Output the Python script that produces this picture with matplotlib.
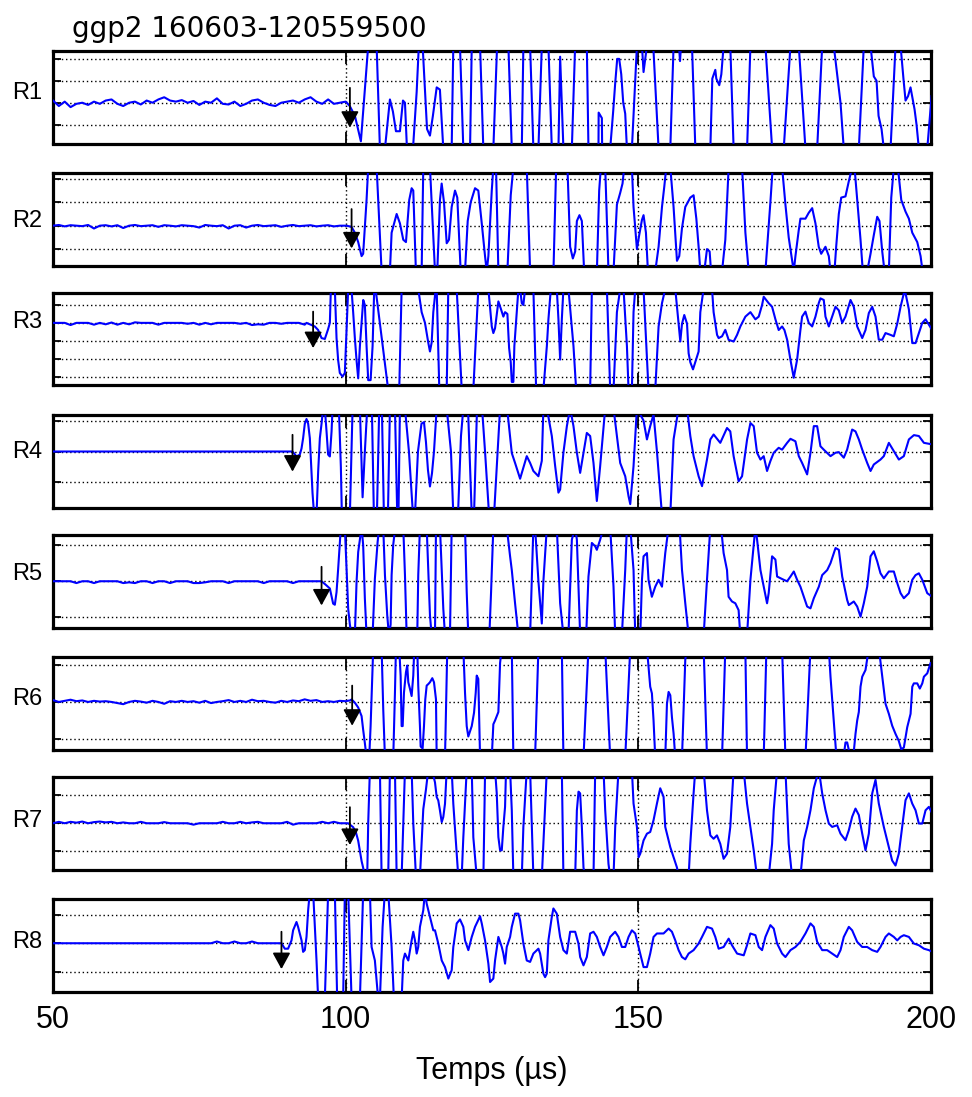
import numpy as np
import matplotlib.pyplot as plt

plt.rcParams['font.family'] = ['Liberation Sans', 'DejaVu Sans']

# ---- data (time in µs, amplitude in grid units) ----
title = 'ggp2 160603-120559500'
receivers = ['R1', 'R2', 'R3', 'R4', 'R5', 'R6', 'R7', 'R8']
xticks = [50, 100, 150, 200]
xlabel = 'Temps (µs)'

# pre-trigger noise, one value per µs starting at 50 µs
r1_pre = [0.10, -0.15, 0.05, -0.20, -0.05, 0.00, -0.10, 0.05, -0.05, 0.10,
          0.15, -0.05, -0.15, 0.00, 0.05, -0.08, 0.10, 0.00, 0.15, 0.25,
          0.10, 0.05, 0.12, 0.00, 0.08, -0.10, 0.05, 0.00, 0.20, -0.05,
          -0.08, 0.05, -0.15, -0.05, 0.10, 0.15, 0.00, -0.10, -0.15, 0.00,
          0.05, 0.10, 0.00, 0.15, 0.25, 0.05, -0.05, 0.15, -0.05, 0.00,
          0.05]
r2_pre = [0.0, 0.03, -0.03, 0.02, 0.0, -0.02, 0.03, -0.12, 0.0, 0.02,
          -0.03, 0.02, -0.1, 0.0, 0.03, -0.02, 0.0, 0.02, -0.05, 0.02,
          0.0, -0.03, 0.02, 0.0, -0.02, -0.08, 0.03, 0.0, -0.02, 0.02,
          -0.12, 0.0, 0.02, -0.08, 0.0, 0.03, -0.02, 0.0, 0.02, -0.05,
          0.0, 0.03, -0.02, 0.0, 0.02, -0.03, 0.0, 0.02, -0.03, 0.0,
          0.0]
r3_pre = [0.0, 0.0, 0.0, -0.12, 0.0, 0.0, 0.0, -0.1, 0.0, -0.08,
          0.02, -0.1, 0.0, -0.08, 0.03, 0.0, 0.0, 0.0, -0.1, 0.0,
          0.0, 0.0, 0.0, -0.05, 0.0, -0.1, 0.0, -0.08, 0.0, 0.0,
          0.0, 0.0, -0.05, 0.0, -0.12, -0.08, -0.1, 0.0, 0.0, -0.05,
          0.0, 0.0, 0.0, -0.1]
r4_pre = [0.0, 0.0, 0.0, 0.0, 0.0, 0.0, 0.0, 0.0, 0.0, 0.0,
          0.0, 0.0, 0.0, 0.0, 0.0, 0.0, 0.0, 0.0, 0.0, 0.0,
          0.0, 0.0, 0.0, 0.0, 0.0, 0.0, 0.0, 0.0, 0.0, 0.0,
          0.0, 0.0, 0.0, 0.0, 0.0, 0.0, 0.0, 0.0, 0.0, 0.0,
          0.0]
r5_pre = [0.0, 0.0, 0.0, 0.0, -0.05, 0.0, 0.0, -0.05, 0.0, 0.0,
          0.0, 0.0, -0.05, -0.03, -0.05, 0.0, 0.0, -0.05, 0.0, 0.0,
          -0.05, 0.0, 0.0, 0.0, -0.05, -0.05, -0.03, 0.0, 0.0, 0.0,
          -0.05, 0.0, 0.0, 0.0, 0.0, 0.0, -0.05, 0.0, 0.0, 0.0,
          0.0, -0.05, 0.0, 0.0, 0.0, 0.0]
r6_pre = [0.05, 0.0, 0.03, 0.06, 0.02, 0.04, 0.0, 0.03, 0.01, 0.02,
          0.0, -0.03, -0.06, 0.0, 0.03, 0.01, -0.02, 0.03, 0.0, -0.05,
          0.02, 0.0, 0.03, 0.0, 0.02, -0.02, 0.03, -0.03, 0.0, 0.02,
          0.05, 0.0, 0.03, 0.0, 0.06, 0.02, 0.03, 0.0, -0.02, 0.03,
          0.0, 0.04, 0.02, 0.07, 0.03, 0.05, 0.0, 0.02, 0.0, 0.03,
          0.02, 0.05]
r7_pre = [0.0, 0.05, 0.0, 0.05, 0.02, 0.06, 0.0, 0.04, 0.06, 0.03,
          0.05, 0.0, 0.03, 0.0, 0.0, 0.05, 0.0, 0.0, 0.0, 0.04,
          0.0, 0.0, 0.0, 0.0, -0.05, 0.0, 0.0, 0.0, 0.0, 0.05,
          0.0, 0.0, 0.05, 0.0, 0.03, 0.05, 0.0, 0.0, 0.0, 0.0,
          0.05, -0.05, 0.0, 0.0, 0.0, 0.0, 0.05, 0.0, 0.05, 0.0]
r8_pre = [0.0, 0.0, 0.0, 0.0, 0.0, 0.0, 0.0, 0.0, 0.0, 0.0,
          0.0, 0.0, 0.0, 0.0, 0.0, 0.0, 0.0, 0.0, 0.0, 0.0,
          0.0, 0.0, 0.0, 0.0, 0.0, 0.0, 0.0, 0.0, 0.06, 0.0,
          0.0, 0.06, 0.0, 0.0, 0.06, 0.0, 0.0, 0.0, 0.0, 0.0]

# signal after the first arrival: (time, amplitude) turning points
r1_sig = [(100.19, 0.0), (100.7, -0.15), (101.58, -0.6), (102.6, -1.76), (103.85, 2.6), (105.29, 2.6),
          (105.85, -2.1), (106.71, -2.1), (107.56, 0.15), (108.07, -0.4), (108.59, -1.3), (109.27, -1.3),
          (109.79, 0.1), (110.13, 0.0), (110.47, -2.1), (111.5, -2.1), (112.13, 0.5), (112.5, 2.6),
          (113.15, 2.6), (113.9, -1.2), (114.4, -1.5), (114.9, -0.6), (115.55, 0.7), (116.1, 0.6),
          (116.68, -2.1), (118.11, -2.1), (118.39, 2.6), (119.53, 2.6), (120.1, -2.1), (121.25, -2.1),
          (121.54, 2.6), (122.96, 2.6), (123.52, -2.1), (125.23, -2.1), (125.87, 2.6), (127.8, 2.6),
          (128.38, -2.1), (130.09, -2.1), (130.36, 2.6), (131.51, 2.6), (132.07, -2.1), (132.93, -2.1),
          (133.51, 2.6), (134.64, 2.6), (135.22, -2.1), (136.35, -2.1), (136.64, 2.1), (137.2, -2.1),
          (138.64, -2.1), (139.2, 2.6), (141.2, 2.6), (141.48, -2.1), (143.19, -2.1), (143.22, -0.45),
          (143.77, -0.7), (143.82, -2.1), (145.19, -2.1), (145.7, -0.4), (146.05, 0.9), (146.39, 2.0),
          (146.73, 2.0), (147.08, 1.3), (147.42, 0.0), (147.76, -0.5), (148.05, -2.1), (148.9, -2.1),
          (149.76, 2.6), (150.62, 2.6), (150.89, 1.4), (151.47, 2.6), (152.55, 2.6), (153.46, -2.1),
          (155.46, -2.1), (156.02, 2.6), (156.95, 2.6), (157.12, 1.9), (157.29, 2.6), (159.17, 2.6),
          (159.74, -2.1), (162.3, -2.1), (162.64, 1.1), (163.15, 1.5), (163.32, 1.1), (163.83, 0.8),
          (164.18, 1.3), (164.57, 2.6), (165.71, 2.6), (166.28, -2.1), (168.58, -2.1), (169.15, 2.6),
          (171.71, 2.6), (172.86, -2.1), (174.84, -2.1), (175.99, 2.6), (177.41, 2.6), (178.55, -2.1),
          (180.55, -2.1), (181.41, 2.6), (183.39, 2.6), (184.54, 0.0), (185.1, -2.1), (187.67, -2.1),
          (188.52, 2.6), (189.67, 2.6), (190.23, 1.2), (190.7, 1.0), (191.04, -0.6), (191.55, -1.2),
          (191.94, -2.1), (193.09, -2.1), (193.94, 2.6), (194.8, 2.6), (195.31, 1.05), (195.65, 0.1),
          (196.08, 0.3), (196.5, 0.7), (196.85, 0.2), (197.19, -0.3), (197.53, -1.0), (197.93, -2.1),
          (199.36, -2.1), (200.1, 0.3)]

r2_sig = [(100.15, 0.0), (101.0, -0.05), (101.57, -0.3), (102.14, -0.7), (102.72, -1.3), (102.99, -1.2),
          (103.57, 1.1), (103.85, 2.5), (105.29, 2.5), (106.14, -1.95), (107.56, -1.95), (107.85, -0.3),
          (108.71, 0.5), (109.27, 0.1), (109.84, -0.6), (110.3, -0.7), (110.86, 1.1), (111.27, 1.6),
          (111.55, 1.5), (112.0, -1.95), (112.98, -1.95), (113.26, 2.5), (114.4, 2.5), (115.26, -1.95),
          (115.65, -1.95), (116.11, 1.1), (116.4, 1.8), (116.8, 1.0), (117.26, -0.75), (117.65, -0.6),
          (118.11, 0.8), (118.68, 1.5), (119.07, 1.2), (119.65, -1.95), (120.39, -1.95), (120.85, 0.2),
          (121.36, 1.0), (122.1, 1.6), (122.66, 1.5), (123.25, 0.1), (123.81, -1.3), (124.1, -1.95),
          (124.38, -1.3), (124.96, 1.5), (125.23, 2.5), (125.69, 2.5), (126.09, -1.95), (127.63, -1.95),
          (128.2, 1.3), (128.65, 2.5), (130.94, 2.5), (131.51, -1.95), (135.5, -1.95), (135.96, 2.5),
          (137.89, 2.5), (138.35, -0.9), (138.81, -1.4), (139.21, -1.1), (139.5, 0.2), (139.94, 0.45),
          (140.35, 0.2), (140.74, -1.95), (142.92, -1.95), (143.31, 1.5), (143.6, 2.5), (144.34, 2.5),
          (144.9, -1.95), (145.76, -1.95), (146.34, 0.9), (146.9, 1.4), (147.3, 1.8), (147.59, 2.5),
          (148.9, 2.5), (149.18, 0.8), (149.76, -1.0), (150.15, -0.4), (150.62, 0.25), (150.89, 0.45),
          (151.3, -0.3), (151.64, -1.95), (152.89, -1.95), (153.46, -0.9), (154.04, 0.8), (154.43, 1.66),
          (154.78, 2.5), (155.46, 2.5), (156.02, 0.8), (156.6, -1.5), (156.99, -1.3), (157.46, -0.1),
          (158.02, 0.8), (158.88, 1.2), (159.44, 1.3), (159.91, 0.3), (160.3, -0.9), (160.59, -1.95),
          (161.27, -1.95), (161.73, -1.0), (162.18, -1.1), (162.42, -1.95), (164.3, -1.95), (164.86, -0.6),
          (165.43, 2.5), (167.72, 2.5), (168.29, -0.3), (168.85, -1.95), (171.71, -1.95), (172.56, 1.0),
          (172.96, 2.5), (174.56, 2.5), (175.13, 0.9), (175.69, -0.5), (176.55, -1.95), (176.84, -1.3),
          (177.4, -0.2), (177.69, 0.3), (178.55, 0.3), (179.11, 0.55), (179.7, 0.75), (180.26, 0.1),
          (180.82, -0.9), (181.24, -1.2), (181.97, -0.9), (182.54, -1.3), (182.83, -1.95), (183.51, -1.95),
          (183.8, -0.9), (184.25, 0.5), (184.66, 1.2), (185.39, 1.25), (185.96, 1.9), (186.54, 2.5),
          (186.93, 2.5), (187.39, 1.1), (187.96, -0.6), (188.35, -1.95), (189.1, -1.95), (189.67, -1.2),
          (190.23, -0.4), (190.81, 0.38), (191.2, 0.2), (191.67, -1.1), (192.06, -1.95), (192.8, -1.95),
          (193.21, 1.2), (193.65, 2.5), (194.34, 2.5), (194.92, 1.1), (195.65, 0.6), (196.22, 0.3),
          (196.8, -0.3), (197.65, -0.7), (198.22, -1.3), (198.56, -1.95), (200.5, -1.95)]

r3_sig = [(93.31, 0.0), (94.73, -0.2), (95.3, -0.4), (95.88, -0.85), (96.44, -0.9), (97.0, -0.35),
          (97.3, 0.0), (97.47, 1.9), (98.15, 1.9), (98.44, -0.85), (98.72, -2.1), (99.0, -2.8),
          (99.47, -3.0), (99.86, -2.8), (100.15, -0.4), (100.43, 1.9), (101.0, 1.9), (101.28, 0.6),
          (101.57, -0.85), (101.86, -2.1), (102.14, -3.1), (102.43, -1.3), (103.0, 1.28), (103.28, 1.0),
          (103.57, -1.3), (103.85, -3.2), (104.26, -3.2), (104.6, -1.3), (104.88, 1.9), (105.11, 1.9),
          (107.27, -3.75), (109.15, -3.75), (109.56, 1.9), (112.4, 1.9), (112.98, 0.6), (113.55, 0.0),
          (114.11, -1.1), (114.4, -1.6), (114.69, -1.1), (114.97, 0.6), (115.38, 1.9), (115.55, 1.9),
          (116.0, -3.75), (117.26, -3.75), (117.53, 1.9), (118.97, 1.9), (119.83, -3.75), (121.81, -3.75),
          (122.66, 1.9), (124.38, 1.9), (124.96, -0.2), (125.23, -0.57), (125.52, -0.3), (126.09, 1.2),
          (126.5, 0.8), (126.94, 0.35), (127.23, 0.6), (127.63, 0.5), (127.92, -1.4), (128.2, -2.2),
          (128.38, -3.3), (128.65, -3.3), (128.82, -1.3), (129.23, 0.6), (129.51, 1.9), (129.8, 1.9),
          (130.09, 1.1), (130.36, 1.0), (130.65, 1.9), (132.07, 1.9), (132.54, -3.75), (133.78, -3.75),
          (134.37, -1.3), (134.64, 0.2), (135.05, 1.9), (136.07, 1.9), (136.35, 0.2), (136.64, -2.05),
          (136.93, 0.2), (137.2, 1.9), (138.06, 1.9), (138.92, -1.3), (139.38, -3.75), (141.77, -3.75),
          (142.06, 1.9), (144.63, 1.9), (145.19, -3.75), (145.76, -3.75), (146.34, 0.6), (146.9, 1.9),
          (147.47, 1.9), (148.05, -1.3), (148.33, -3.75), (148.9, -3.75), (149.18, 0.6), (149.47, 1.9),
          (150.89, 1.9), (151.74, -3.75), (152.89, -3.75), (153.46, -0.2), (154.04, 1.1), (154.6, 1.9),
          (156.31, 1.9), (156.88, -0.05), (157.17, -1.04), (157.46, -0.05), (157.85, 0.44), (158.32, -0.05),
          (158.59, -1.7), (158.88, -2.2), (159.34, -2.6), (159.73, -2.2), (160.3, -1.6), (160.59, 0.6),
          (161.15, 1.9), (162.59, 1.9), (162.86, 0.6), (163.45, -0.67), (163.72, -0.85), (164.3, -0.75),
          (164.86, -0.39), (165.43, -0.95), (166.29, -1.04), (166.87, -0.67), (167.43, -0.2), (168.29, 0.35),
          (169.15, 0.6), (170.0, 0.2), (170.57, 0.35), (171.14, 1.0), (171.42, 1.46), (172.27, 1.1),
          (172.85, 0.9), (173.42, 0.2), (173.98, -0.4), (174.56, -0.2), (174.96, -0.4), (175.42, -0.94),
          (175.98, -2.05), (176.55, -3.07), (177.13, -2.05), (177.69, -0.4), (177.98, 0.35), (178.55, 0.63),
          (179.11, 0.0), (179.7, -0.2), (180.26, 0.35), (180.82, 1.1), (181.11, 1.37), (181.68, 1.28),
          (181.97, 0.35), (182.54, -0.2), (183.12, 0.35), (183.68, 0.9), (184.25, 0.7), (184.83, 0.0),
          (185.39, 0.35), (186.25, 1.28), (186.81, 0.9), (187.39, -0.2), (188.25, -0.85), (188.81, -0.4),
          (189.38, 0.55), (189.96, 0.9), (190.52, 0.35), (191.08, -0.94), (191.67, -0.94), (192.23, -0.57),
          (193.08, -0.67), (193.65, -0.75), (194.23, -0.05), (194.8, 0.9), (195.36, 1.65), (195.65, 1.65),
          (196.22, 0.75), (196.8, -1.13), (197.36, -1.13), (197.93, -0.57), (198.51, 0.0), (199.07, 0.2),
          (199.64, -0.1), (200.2, -0.4)]

r4_sig = [(90.92, 0.0), (91.6, -0.16), (92.17, -0.1), (92.46, 0.1), (92.73, 0.43), (93.02, 0.9),
          (93.31, 1.05), (93.59, 0.9), (93.88, 0.43), (94.17, -0.65), (94.34, -1.35), (94.61, -2.05),
          (95.02, -2.05), (95.3, -0.65), (95.59, 0.43), (95.88, 0.9), (96.15, 1.4), (96.44, 1.4),
          (96.73, 0.65), (97.0, -0.1), (97.3, -0.16), (97.59, 0.65), (97.76, 1.4), (98.84, 1.4),
          (99.18, -0.5), (99.35, -2.05), (100.72, -2.05), (101.18, 1.4), (102.43, 1.4), (102.89, -1.48),
          (103.28, 0.0), (103.68, 1.4), (104.48, 1.4), (104.82, -2.05), (105.34, -2.05), (105.73, 1.4),
          (106.19, 1.4), (106.53, -2.05), (107.22, -2.05), (107.56, 1.4), (108.42, 1.4), (108.81, -2.05),
          (109.02, -2.05), (109.27, 1.4), (110.13, 1.4), (110.81, 0.0), (111.5, -2.05), (111.84, -2.05),
          (112.35, 0.0), (112.95, 0.9), (113.38, 0.95), (113.72, 0.3), (114.06, -0.6), (114.4, -1.13),
          (114.75, -0.7), (115.09, 0.0), (115.55, 1.4), (117.26, 1.4), (117.99, 0.0), (118.39, -2.05),
          (119.19, -2.05), (119.7, 0.5), (120.1, 1.4), (120.9, 1.4), (121.54, -2.05), (121.93, -2.05),
          (122.44, 1.4), (123.3, 1.4), (123.81, 0.0), (124.5, -2.05), (125.35, -2.05), (126.04, 0.3),
          (126.38, 1.4), (127.58, 1.4), (128.38, -0.05), (128.94, -0.37), (129.8, -0.88), (130.94, -0.15),
          (131.51, -0.37), (132.07, -0.63), (132.93, -0.8), (133.51, -0.3), (133.78, 1.4), (134.37, 1.4),
          (135.22, 0.5), (135.79, -0.47), (136.35, -1.33), (136.64, -1.23), (137.2, -0.04), (137.79, 0.82),
          (138.35, 1.4), (138.92, 0.82), (139.5, -0.04), (140.06, -0.69), (140.63, -0.04), (141.2, 0.6),
          (141.77, 0.5), (142.34, -0.37), (142.91, -1.6), (143.48, -0.47), (144.34, 1.4), (145.76, 1.4),
          (146.34, 0.5), (146.9, -0.37), (147.76, -0.8), (148.33, -1.45), (148.62, -1.7), (149.18, -0.47),
          (149.76, 1.4), (150.32, 1.2), (150.89, 1.0), (151.47, 0.39), (152.03, 0.82), (152.6, 1.2),
          (153.18, 0.0), (154.04, -2.05), (155.46, -2.05), (156.02, 0.39), (156.88, 1.4), (158.32, 1.4),
          (158.88, 0.5), (159.44, -0.15), (160.3, -0.8), (160.88, -1.12), (161.73, -0.26), (162.3, 0.39),
          (162.86, 0.55), (164.0, 0.28), (165.15, 0.76), (165.71, 0.65), (166.28, -0.15), (167.13, -0.96),
          (167.72, -0.8), (168.58, 0.39), (169.15, 0.92), (169.71, 0.82), (170.28, -0.04), (170.86, -0.26),
          (171.42, -0.15), (171.99, -0.63), (172.56, -0.31), (173.13, -0.04), (173.98, 0.12), (174.56, 0.06),
          (175.42, 0.28), (175.99, 0.41), (176.84, 0.33), (177.41, -0.15), (177.98, -0.37), (178.84, -0.74),
          (179.41, -0.04), (179.98, 0.82), (180.55, 0.82), (181.11, 0.17), (181.68, 0.06), (182.83, -0.15),
          (183.68, -0.04), (184.25, -0.02), (185.1, -0.2), (185.67, 0.06), (186.53, 0.71), (187.1, 0.65),
          (187.67, 0.39), (188.25, 0.06), (189.1, -0.37), (189.67, -0.63), (190.23, -0.42), (191.37, -0.26),
          (191.94, -0.15), (192.8, 0.28), (193.65, 0.01), (194.51, -0.26), (195.36, -0.15), (196.22, 0.39),
          (197.08, 0.53), (197.93, 0.5), (198.79, 0.28), (200.21, 0.23)]

r5_sig = [(95.88, 0.0), (96.61, -0.1), (97.3, -0.2), (97.86, -0.62), (98.15, -0.65), (98.44, -0.3),
          (98.72, 0.35), (99.01, 1.09), (99.18, 1.5), (99.86, 1.5), (100.15, 0.35), (100.43, -0.76),
          (100.72, -1.2), (101.01, -1.5), (101.57, -1.5), (101.86, -0.02), (102.14, 0.81), (102.72, 1.5),
          (102.99, 1.0), (103.28, -0.48), (103.57, -1.5), (104.6, -1.5), (104.99, 0.07), (105.46, 1.09),
          (105.73, 1.5), (106.42, 1.5), (106.71, 0.17), (107.1, -0.94), (107.39, -1.5), (107.68, -1.2),
          (107.85, 0.17), (108.12, 1.0), (108.47, 1.5), (109.84, 1.5), (110.13, 0.17), (110.42, -1.5),
          (112.23, -1.5), (112.4, 0.17), (112.69, 1.5), (113.84, 1.5), (114.4, -0.94), (114.69, -1.5),
          (115.26, -1.5), (115.43, 1.5), (116.11, 1.5), (116.68, -0.76), (116.97, -1.5), (117.82, -1.5),
          (118.11, 1.5), (120.39, 1.5), (120.68, -0.3), (120.95, -1.5), (124.55, -1.5), (124.84, -0.3),
          (125.23, 1.5), (127.52, 1.5), (128.09, 0.69), (128.38, 0.31), (128.94, -0.61), (129.51, -1.5),
          (131.51, -1.5), (132.07, 1.5), (132.36, 1.5), (132.93, 0.0), (133.51, -1.17), (133.78, 0.0),
          (134.37, 1.5), (136.07, 1.5), (136.64, -0.61), (137.2, -1.5), (138.06, -1.5), (138.64, 1.15),
          (139.21, 1.5), (139.5, 1.15), (140.06, -1.5), (141.09, -1.5), (141.48, 0.13), (142.06, 1.06),
          (142.62, 0.97), (142.91, 0.87), (143.48, 1.15), (144.05, 1.5), (145.19, 1.5), (145.76, -0.15),
          (146.05, -1.5), (147.19, -1.5), (147.76, 0.31), (148.05, 1.5), (148.62, 1.5), (149.18, 0.31),
          (149.47, -1.5), (150.33, -1.5), (150.62, 0.04), (150.89, 0.69), (151.47, 0.78), (151.74, 0.04),
          (152.31, -0.43), (152.89, -0.15), (153.46, 0.04), (154.04, -0.15), (154.6, 0.78), (155.17, 1.5),
          (157.05, 1.5), (157.46, 0.31), (158.02, -0.61), (158.59, -1.5), (161.16, -1.5), (161.73, 0.04),
          (162.3, 1.5), (164.13, 1.5), (164.57, 0.78), (165.15, 0.31), (165.42, -0.43), (166.0, -0.56),
          (166.57, -0.61), (167.13, -0.8), (167.42, -1.5), (168.57, -1.5), (169.15, 0.04), (170.0, 1.5),
          (170.29, 1.15), (170.86, 0.31), (171.42, -0.15), (171.99, -0.61), (172.27, -0.33), (172.85, 0.69),
          (173.42, 0.6), (173.71, 0.13), (174.84, 0.04), (175.42, 0.0), (175.99, 0.13), (176.56, 0.27),
          (177.13, 0.04), (177.69, -0.15), (178.27, -0.43), (178.84, -0.7), (179.41, -0.75), (179.98, -0.47),
          (180.84, -0.15), (181.41, 0.17), (182.27, 0.31), (182.83, 0.5), (183.69, 0.92), (184.25, 0.87),
          (184.83, 0.13), (185.68, -0.52), (185.96, -0.66), (186.81, -0.56), (187.39, -0.7), (187.96, -0.98),
          (188.52, -0.61), (189.1, -0.15), (189.67, 0.69), (190.23, 0.83), (190.81, 0.55), (191.37, 0.22),
          (191.94, 0.08), (192.8, 0.27), (193.65, 0.27), (194.23, -0.05), (194.8, -0.33), (195.36, -0.47),
          (196.22, -0.33), (196.8, 0.04), (197.36, 0.17), (197.93, 0.22), (198.51, 0.04), (199.36, -0.33),
          (200.21, -0.43)]

r6_sig = [(101.01, 0.07), (101.57, -0.02), (102.14, -0.15), (102.72, -0.38), (102.99, -0.75), (103.28, -1.11),
          (103.57, -1.5), (104.02, -1.5), (104.26, -0.65), (104.6, 0.98), (104.71, 1.45), (106.14, 1.45),
          (106.42, -0.2), (106.71, -1.5), (108.13, -1.5), (108.42, 0.25), (108.59, 1.45), (109.15, 1.45),
          (109.39, 0.7), (109.56, -0.65), (109.74, -0.65), (109.96, 0.25), (110.3, 0.8), (110.52, 0.98),
          (110.7, 0.53), (110.99, 0.35), (111.27, 0.16), (111.55, 0.71), (111.72, 1.45), (112.23, 1.45),
          (112.4, 0.44), (112.69, -0.65), (112.81, -1.2), (113.15, -1.25), (113.38, -0.65), (113.6, 0.07),
          (113.84, 0.44), (114.11, 0.48), (114.4, 0.53), (114.8, 0.64), (115.09, 0.53), (115.43, 0.07),
          (115.55, -1.5), (116.97, -1.5), (117.36, 1.45), (120.1, 1.45), (120.39, 0.25), (120.68, -0.65),
          (120.95, -0.93), (121.54, -0.65), (121.93, -0.29), (122.22, 0.25), (122.39, 0.71), (122.66, 0.62),
          (122.96, -1.5), (124.96, -1.5), (125.23, -0.6), (125.52, -0.5), (126.09, -0.27), (126.38, 1.05),
          (126.67, 1.45), (128.38, 1.45), (128.65, -1.5), (132.36, -1.5), (132.93, 1.45), (136.93, 1.45),
          (137.2, -1.5), (140.63, -1.5), (141.48, 1.45), (144.34, 1.45), (145.19, -1.5), (147.76, -1.5),
          (148.62, 1.45), (151.47, 1.45), (152.03, 0.41), (152.32, 0.23), (152.6, -0.5), (152.89, -1.5),
          (154.6, -1.5), (154.89, -0.05), (155.17, 0.27), (155.46, 0.18), (155.74, -0.41), (156.03, -0.86),
          (156.31, -1.5), (157.46, -1.5), (158.02, 1.14), (158.32, 1.45), (161.16, 1.45), (161.73, -1.5),
          (164.3, -1.5), (164.86, 1.45), (168.28, 1.45), (168.57, -1.5), (171.42, -1.5), (171.88, 1.45),
          (174.56, 1.45), (175.13, -1.5), (178.55, -1.5), (179.41, 1.45), (182.54, 1.45), (182.83, 0.68),
          (183.39, -0.5), (183.85, -1.5), (185.05, -1.5), (185.39, -1.09), (185.68, -1.09), (186.25, -1.5),
          (186.71, -1.5), (187.1, -0.86), (187.39, -0.5), (187.67, -0.27), (187.96, 0.41), (188.25, 0.68),
          (188.81, 0.86), (189.38, 1.45), (191.09, 1.45), (191.67, 0.68), (192.23, -0.05), (192.8, -0.32),
          (193.37, -0.64), (193.94, -0.86), (194.5, -1.05), (194.91, -1.27), (195.36, -1.23), (195.94, -0.68),
          (196.51, -0.32), (196.8, 0.41), (197.07, 0.5), (197.65, 0.5), (198.09, 0.36), (198.51, 0.5),
          (198.79, 0.68), (199.36, 0.77), (199.93, 1.05), (200.21, 1.05)]

r7_sig = [(99.86, 0.0), (100.43, 0.0), (101.28, -0.14), (101.75, -0.32), (102.14, -0.62), (102.43, -0.98),
          (102.72, -1.34), (102.99, -1.58), (103.28, -1.9), (103.68, -1.9), (103.85, 0.0), (104.14, 1.9),
          (105.85, 1.9), (106.14, -1.9), (107.27, -1.9), (107.56, 1.9), (108.42, 1.9), (108.71, -1.9),
          (109.56, -1.9), (109.84, 0.0), (110.13, 1.9), (111.27, 1.9), (111.55, 0.0), (112.01, -1.9),
          (112.69, -1.9), (113.26, 0.5), (113.72, 1.2), (114.11, 1.9), (114.74, 1.9), (115.26, 1.45),
          (115.55, 0.93), (115.82, 0.81), (116.11, 0.45), (116.41, 0.04), (116.68, 0.22), (116.97, 0.69),
          (117.26, 1.9), (118.11, 1.9), (118.39, 0.69), (118.97, -1.1), (119.24, -1.9), (119.82, -1.9),
          (120.1, -0.5), (120.68, 1.9), (121.54, 1.9), (121.81, -0.5), (122.39, -1.9), (123.53, -1.9),
          (123.82, 1.9), (125.52, 1.9), (125.81, 1.06), (126.09, -0.49), (126.38, -0.96), (126.67, -0.96),
          (126.94, -0.13), (127.23, 0.58), (127.4, 1.9), (128.09, 1.9), (128.38, 0.46), (128.65, -1.9),
          (130.09, -1.9), (130.36, -0.13), (130.94, 1.9), (131.51, 1.9), (131.8, -0.13), (132.07, -1.9),
          (133.51, -1.9), (133.78, -0.73), (134.37, 1.9), (136.93, 1.9), (137.2, -1.9), (139.21, -1.9),
          (139.5, 0.46), (139.78, 1.12), (140.06, 1.06), (140.35, -0.13), (140.63, -1.57), (140.92, -1.9),
          (142.34, -1.9), (142.63, 1.9), (144.05, 1.9), (144.34, 0.46), (144.9, -1.44), (145.19, -1.9),
          (145.76, -1.9), (146.05, -0.13), (146.62, 1.9), (148.9, 1.9), (149.18, 0.7), (149.76, -0.13),
          (150.05, -1.2), (150.33, -1.08), (150.89, -0.61), (151.47, -0.37), (152.03, -0.31), (152.6, 0.11),
          (153.18, 0.7), (153.74, 1.24), (154.31, 0.94), (154.6, -0.13), (155.46, -0.85), (156.02, -1.2),
          (156.6, -1.57), (156.88, -1.9), (158.59, -1.9), (158.88, -0.73), (159.44, 1.06), (159.73, 1.9),
          (161.15, 1.9), (161.73, 0.46), (162.3, -0.43), (162.86, -0.55), (163.43, -0.43), (164.0, -0.73),
          (164.57, -1.26), (165.15, -1.08), (165.71, -0.13), (166.28, 1.9), (167.99, 1.9), (168.57, 0.7),
          (169.14, -0.13), (169.71, -0.96), (170.28, -1.9), (172.27, -1.9), (172.85, -0.73), (173.13, 0.46),
          (173.71, 1.9), (175.13, 1.9), (175.69, -0.73), (176.27, -1.9), (177.69, -1.9), (178.27, -0.61),
          (178.84, -0.13), (179.41, 0.46), (179.98, 1.24), (180.84, 1.9), (181.41, 1.06), (181.98, 0.46),
          (182.54, -0.01), (183.12, -0.13), (183.97, -0.07), (184.54, -0.37), (185.39, -0.6), (185.96, -0.25),
          (186.53, 0.23), (187.1, 0.52), (187.67, 0.29), (188.25, -0.37), (188.81, -0.96), (189.38, -0.37),
          (189.96, 1.06), (190.52, 1.54), (191.08, 0.7), (191.94, -0.13), (192.51, -0.61), (193.36, -1.32),
          (193.94, -1.5), (194.5, -1.08), (195.08, -0.13), (195.65, 0.82), (196.22, 1.06), (196.79, 0.7),
          (197.36, 0.46), (197.93, -0.01), (198.51, -0.01), (199.07, 0.46), (199.64, 0.58), (200.21, 0.35)]

r8_sig = [(89.03, 0.0), (89.6, -0.19), (90.16, -0.19), (90.75, 0.1), (91.02, 0.45), (91.6, 0.74),
          (91.87, 0.57), (92.46, 0.1), (92.73, -0.3), (93.02, -0.24), (93.31, 0.22), (93.59, 1.15),
          (93.88, 1.8), (94.44, 1.8), (94.73, 0.57), (95.02, -0.6), (95.3, -1.95), (96.44, -1.95),
          (97.01, 1.8), (98.15, 1.8), (98.55, -1.95), (99.57, -1.95), (99.86, 1.8), (100.43, 1.8),
          (101.01, -1.95), (102.43, -1.95), (102.99, 1.8), (104.14, 1.8), (104.43, -0.13), (104.99, -0.6),
          (105.56, -1.95), (105.85, -1.95), (106.31, 0.57), (106.7, 1.8), (107.27, 1.8), (107.85, -0.13),
          (108.24, -1.95), (109.56, -1.95), (109.84, -0.6), (110.13, -0.36), (110.7, -0.6), (111.27, 0.1),
          (111.55, 0.4), (111.84, 0.1), (112.13, -0.36), (112.4, -0.13), (112.69, 0.57), (113.26, 1.15),
          (113.55, 1.8), (113.84, 1.38), (114.4, 0.92), (114.97, 0.45), (115.26, 0.45), (115.82, -0.01),
          (116.41, -0.6), (116.97, -0.83), (117.54, -1.23), (118.11, -0.94), (118.39, -0.13), (118.97, 0.69),
          (119.53, 0.83), (120.1, 0.57), (120.39, 0.1), (120.96, -0.24), (121.54, 0.22), (122.1, 0.57),
          (122.96, 0.94), (123.25, 0.69), (123.81, 0.1), (124.38, -0.71), (124.67, -1.35), (125.23, -1.23),
          (125.52, -0.6), (126.09, 0.22), (126.67, -0.13), (126.94, -0.36), (127.23, -0.71), (127.52, -0.13),
          (128.09, 0.22), (128.38, 0.57), (128.94, 1.03), (129.51, 1.03), (129.8, 0.8), (130.36, -0.01),
          (130.94, -0.6), (131.51, -0.65), (132.07, -0.36), (132.93, -0.19), (133.22, -0.36), (133.78, -1.06),
          (134.07, -1.18), (134.36, -1.06), (134.64, 0.1), (135.22, 0.92), (135.49, 1.21), (136.07, 1.03),
          (136.64, 0.22), (137.2, -0.24), (137.78, -0.36), (138.35, 0.4), (139.21, 0.4), (139.77, -0.01),
          (140.06, -0.48), (140.63, -0.77), (141.2, -0.48), (141.77, 0.34), (142.34, 0.4), (142.91, 0.22),
          (143.48, -0.13), (144.05, -0.42), (144.62, -0.13), (145.19, 0.22), (146.04, 0.4), (146.61, 0.22),
          (147.19, -0.13), (147.76, -0.13), (148.33, 0.22), (148.9, 0.45), (149.47, 0.34), (150.04, -0.13),
          (150.62, -0.6), (150.89, -0.83), (151.47, -0.83), (152.03, -0.36), (152.6, 0.22), (153.18, 0.34),
          (154.31, 0.34), (155.17, 0.51), (155.74, 0.4), (156.31, 0.1), (156.88, -0.24), (157.45, -0.48),
          (158.02, -0.56), (158.59, -0.36), (159.44, -0.24), (160.3, -0.01), (160.88, 0.22), (161.73, 0.57),
          (162.59, 0.51), (163.15, 0.22), (163.72, -0.19), (164.57, -0.13), (165.43, 0.16), (166.0, -0.07),
          (166.87, -0.36), (168.01, -0.42), (168.57, -0.07), (169.14, 0.34), (170.0, 0.28), (170.57, -0.13),
          (171.14, -0.24), (171.71, 0.22), (172.56, 0.63), (173.13, 0.51), (173.71, -0.01), (174.56, -0.36),
          (175.13, -0.48), (175.99, -0.24), (176.84, -0.13), (177.69, 0.05), (178.55, 0.34), (179.41, 0.69),
          (179.98, 0.57), (180.55, 0.05), (181.41, -0.24), (182.26, -0.24), (183.12, -0.36), (183.97, -0.48),
          (184.54, -0.24), (185.1, 0.22), (185.96, 0.57), (186.53, 0.45), (187.38, 0.05), (188.24, -0.13),
          (189.1, -0.13), (189.95, -0.24), (190.81, -0.3), (191.37, -0.13), (192.23, 0.22), (192.8, 0.34),
          (193.65, 0.22), (194.23, 0.1), (194.8, 0.22), (195.36, 0.28), (196.22, 0.22), (197.07, -0.01),
          (197.93, -0.07), (198.79, -0.19), (199.64, -0.24), (200.21, -0.3)]

# picked first arrivals: (time, arrow tail, arrow tip)
r_picks = [(100.72, 0.68, -1.14), (101.01, 0.71, -0.97), (94.44, 0.63, -1.41), (90.92, 0.54, -0.65),
           (95.88, 0.40, -0.67), (101.11, 0.44, -0.64), (100.72, 0.57, -0.77), (89.03, 0.40, -0.90)]

pre_list = [r1_pre, r2_pre, r3_pre, r4_pre, r5_pre, r6_pre, r7_pre, r8_pre]
sig_list = [r1_sig, r2_sig, r3_sig, r4_sig, r5_sig, r6_sig, r7_sig, r8_sig]

# ---- layout (pixel positions of the reference) ----
W, H = 972, 1097
ax_left, ax_width = 53, 878
panel_tops = [51, 173, 293, 415, 535, 657, 777, 899]
panel_h = 92.5
y_limits = [(-1.86, 2.36), (-1.70, 2.25), (-3.5, 1.67), (-1.81, 1.18),
            (-1.28, 1.28), (-1.28, 1.21), (-1.64, 1.64), (-1.68, 1.54)]
y_grid = [[-1, 0, 1, 2], [-1, 0, 1, 2], [-3, -2, -1, 0, 1], [-1, 0, 1],
          [-1, 0, 1], [-1, 0, 1], [-1, 0, 1], [-1, 0, 1]]
label_y = [0.484, 0.413, 0.624, 0.538, 0.511, 0.478, 0.457, 0.467]

fig = plt.figure(figsize=(W / 100, H / 100), dpi=100)

for i in range(8):
    ax = fig.add_axes([ax_left / W, 1 - (panel_tops[i] + panel_h) / H, ax_width / W, panel_h / H])

    pre = np.array(pre_list[i])
    sig = np.array(sig_list[i])
    t = np.concatenate([50 + np.arange(len(pre)), sig[:, 0]])
    v = np.concatenate([pre, sig[:, 1]])
    ax.plot(t, v, color='#0000ff', lw=1.5, zorder=3)

    tp, tail, tip = r_picks[i]
    ax.annotate('', xy=(tp, tip), xytext=(tp, tail), zorder=4,
                arrowprops=dict(arrowstyle='-|>,head_length=0.55,head_width=0.3', color='k',
                                lw=1.3, mutation_scale=18, shrinkA=0, shrinkB=0))

    ax.set_xlim(50, 200)
    ax.set_ylim(*y_limits[i])
    ax.set_xticks(xticks)
    ax.set_yticks(y_grid[i])
    ax.set_yticklabels([])
    ax.grid(True, color='k', linestyle=(0, (1, 2)), linewidth=1.0)
    ax.tick_params(axis='x', direction='in', top=True, bottom=True, length=9, width=1.3)
    ax.tick_params(axis='y', direction='in', left=True, right=True, length=6, width=1.3)
    for s in ax.spines.values():
        s.set_linewidth(2.3)
    if i < 7:
        ax.set_xticklabels([])
    else:
        ax.tick_params(axis='x', labelsize=22, pad=10)
        ax.set_xlabel(xlabel, fontsize=22, labelpad=15)

    ax.text(-0.012, label_y[i], receivers[i], transform=ax.transAxes,
            ha='right', va='baseline', fontsize=17)

fig.text(72 / W, 1 - 37 / H, title, fontsize=20, family='DejaVu Sans', ha='left', va='baseline')

fig.savefig('out.png', dpi=100)
